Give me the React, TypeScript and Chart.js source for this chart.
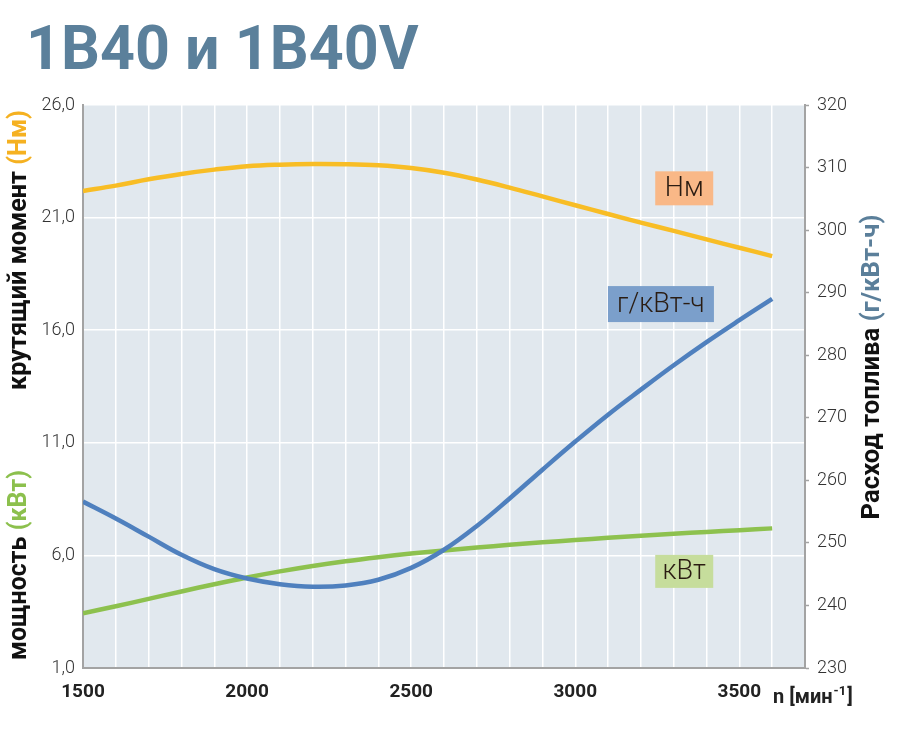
import React, { useEffect, useRef } from "react";
import { Chart, registerables } from "chart.js";

Chart.register(...registerables);

// ---- data ----
const rpm = [1500, 1600, 1700, 1800, 1900, 2000, 2100, 2200, 2300, 2400, 2500, 2600, 2700, 2800, 2900, 3000, 3100, 3200, 3300, 3400, 3500, 3600];
const torqueNm = [22.18, 22.42, 22.7, 22.94, 23.13, 23.28, 23.35, 23.38, 23.37, 23.32, 23.2, 22.99, 22.69, 22.33, 21.94, 21.55, 21.16, 20.78, 20.41, 20.03, 19.66, 19.29];
const fuelGkWh = [256.6, 253.9, 251.0, 248.1, 245.8, 244.3, 243.4, 243.0, 243.2, 244.1, 246.0, 248.9, 252.7, 257.1, 261.7, 266.2, 270.5, 274.5, 278.4, 282.1, 285.6, 289.0];
const powerKw = [3.43, 3.74, 4.07, 4.4, 4.72, 5.02, 5.29, 5.53, 5.74, 5.92, 6.08, 6.22, 6.35, 6.47, 6.58, 6.68, 6.78, 6.87, 6.96, 7.04, 7.12, 7.2];

const xLabelValues = [1500, 2000, 2500, 3000, 3500];
const leftTickValues = [1, 6, 11, 16, 21, 26];
const rightTickValues = [230, 240, 250, 260, 270, 280, 290, 300, 310, 320];

const titleText = "1B40 и 1B40V";
const tagTexts = ["Нм", "г/кВт-ч", "кВт"];
// tag anchors in data units (x: rpm, y: left axis)
const tagX = [3332, 3261, 3332];
const tagY = [22.3, 17.16, 5.29];

// ---- styles ----
const tagW = [58, 106, 58];
const tagH = [34, 36, 33];
const tagColors = ["#f9b887", "#7b9fcb", "#c6dd9c"];
const FONT = "Roboto, 'DejaVu Sans', sans-serif";

function drawRotated(
  ctx: CanvasRenderingContext2D,
  cx: number,
  cy: number,
  parts: [string, string][],
  targetLen: number
) {
  ctx.save();
  let size = 22;
  ctx.font = `bold ${size}px ${FONT}`;
  let total = parts.reduce((s, p) => s + ctx.measureText(p[0]).width, 0);
  size = (size * targetLen) / total;
  ctx.font = `bold ${size}px ${FONT}`;
  total = parts.reduce((s, p) => s + ctx.measureText(p[0]).width, 0);
  ctx.translate(cx, cy);
  ctx.rotate(-Math.PI / 2);
  ctx.textBaseline = "middle";
  ctx.textAlign = "left";
  let x = -total / 2;
  for (const [t, c] of parts) {
    ctx.fillStyle = c;
    ctx.fillText(t, x, 0);
    x += ctx.measureText(t).width;
  }
  ctx.restore();
}

const decorPlugin = {
  id: "decor",
  beforeDraw(chart: any) {
    const { ctx, chartArea: a } = chart;
    ctx.save();
    ctx.fillStyle = "#e1e8ee";
    ctx.fillRect(a.left, a.top, a.right - a.left, a.bottom - a.top);
    ctx.restore();
  },
  afterDraw(chart: any) {
    const { ctx, scales } = chart;
    // title
    ctx.save();
    ctx.font = `bold 61px ${FONT}`;
    ctx.fillStyle = "#5b809b";
    ctx.textBaseline = "alphabetic";
    ctx.textAlign = "left";
    ctx.fillText(titleText, 26, 69);
    ctx.restore();

    // tags
    for (let i = 0; i < tagTexts.length; i++) {
      const cx = scales.x.getPixelForValue(tagX[i]);
      const cy = scales.y.getPixelForValue(tagY[i]);
      ctx.save();
      ctx.fillStyle = tagColors[i];
      ctx.fillRect(cx - tagW[i] / 2, cy - tagH[i] / 2, tagW[i], tagH[i]);
      ctx.font = `300 27px ${FONT}`;
      ctx.fillStyle = "#2a1c12";
      ctx.textAlign = "center";
      ctx.textBaseline = "middle";
      ctx.fillText(tagTexts[i], cx, cy + 1);
      ctx.restore();
    }

    // axis titles
    drawRotated(ctx, 20, 250, [["крутящий момент ", "#111"], ["(Нм)", "#f5b121"]], 280);
    drawRotated(ctx, 20, 565, [["мощность ", "#111"], ["(кВт)", "#8cc04d"]], 190);
    drawRotated(ctx, 873, 367, [["Расход топлива ", "#111"], ["(г/кВт-ч)", "#5b7f9a"]], 305);

    // x axis title
    ctx.save();
    ctx.fillStyle = "#222";
    ctx.textBaseline = "alphabetic";
    ctx.textAlign = "left";
    ctx.font = `bold 20px ${FONT}`;
    let x = 773;
    const y = 703;
    ctx.fillText("n [мин", x, y);
    x += ctx.measureText("n [мин").width;
    ctx.font = `bold 13px ${FONT}`;
    ctx.fillText("-1", x + 1, y - 8);
    x += ctx.measureText("-1").width + 2;
    ctx.font = `bold 20px ${FONT}`;
    ctx.fillText("]", x, y);
    ctx.restore();
  },
};

export default function App() {
  const ref = useRef<HTMLCanvasElement | null>(null);

  useEffect(() => {
    if (!ref.current) return;
    const chart = new Chart(ref.current, {
      type: "line",
      data: {
        datasets: [
          {
            label: "Нм",
            data: rpm.map((r, i) => ({ x: r, y: torqueNm[i] })),
            yAxisID: "y",
            borderColor: "#f8bd25",
            borderWidth: 4.5,
            pointRadius: 0,
            tension: 0.4,
            fill: false,
          },
          {
            label: "г/кВт-ч",
            data: rpm.map((r, i) => ({ x: r, y: fuelGkWh[i] })),
            yAxisID: "y2",
            borderColor: "#4f80be",
            borderWidth: 4.5,
            pointRadius: 0,
            tension: 0.4,
            fill: false,
          },
          {
            label: "кВт",
            data: rpm.map((r, i) => ({ x: r, y: powerKw[i] })),
            yAxisID: "y",
            borderColor: "#8dc14e",
            borderWidth: 4.5,
            pointRadius: 0,
            tension: 0.4,
            fill: false,
          },
        ],
      },
      options: {
        responsive: false,
        animation: false,
        layout: { padding: { top: 105, left: 0, right: 0, bottom: 0 } },
        plugins: { legend: { display: false }, tooltip: { enabled: false } },
        scales: {
          x: {
            type: "linear",
            min: 1500,
            max: 3700,
            afterFit: (s: any) => {
              s.height = 66;
            },
            ticks: {
              stepSize: 100,
              autoSkip: false,
              maxRotation: 0,
              padding: 13,
              color: "#222",
              font: { family: FONT, size: 19, weight: "bold" },
              callback: (v: any) => (xLabelValues.includes(Number(v)) ? String(v) : ""),
            },
            grid: { color: "#ffffff", lineWidth: 1.5, drawTicks: false },
            border: { color: "#a3a3a3", width: 2 },
          },
          y: {
            type: "linear",
            position: "left",
            min: 1,
            max: 26,
            afterFit: (s: any) => {
              s.width = 83;
            },
            afterBuildTicks: (s: any) => {
              s.ticks = leftTickValues.map((v) => ({ value: v }));
            },
            ticks: {
              padding: 8,
              color: "#333",
              font: { family: FONT, size: 18, weight: "300" },
              callback: (v: any) => Number(v).toFixed(1).replace(".", ","),
            },
            grid: { color: "#ffffff", lineWidth: 1.5, drawTicks: false },
            border: { color: "#a3a3a3", width: 2 },
          },
          y2: {
            type: "linear",
            position: "right",
            min: 230,
            max: 320,
            afterFit: (s: any) => {
              s.width = 110;
            },
            afterBuildTicks: (s: any) => {
              s.ticks = rightTickValues.map((v) => ({ value: v }));
            },
            ticks: {
              padding: 8,
              color: "#333",
              font: { family: FONT, size: 18, weight: "300" },
            },
            grid: {
              drawOnChartArea: false,
              drawTicks: true,
              tickLength: 4,
              tickColor: "#a3a3a3",
              tickWidth: 1.5,
            },
            border: { color: "#a3a3a3", width: 2 },
          },
        },
      },
      plugins: [decorPlugin],
    } as any);
    return () => chart.destroy();
  }, []);

  return (
    <div style={{ position: "absolute", left: 0, top: 0, width: 915, height: 734, background: "#fff" }}>
      <canvas ref={ref} width={915} height={734} style={{ display: "block" }} />
    </div>
  );
}
